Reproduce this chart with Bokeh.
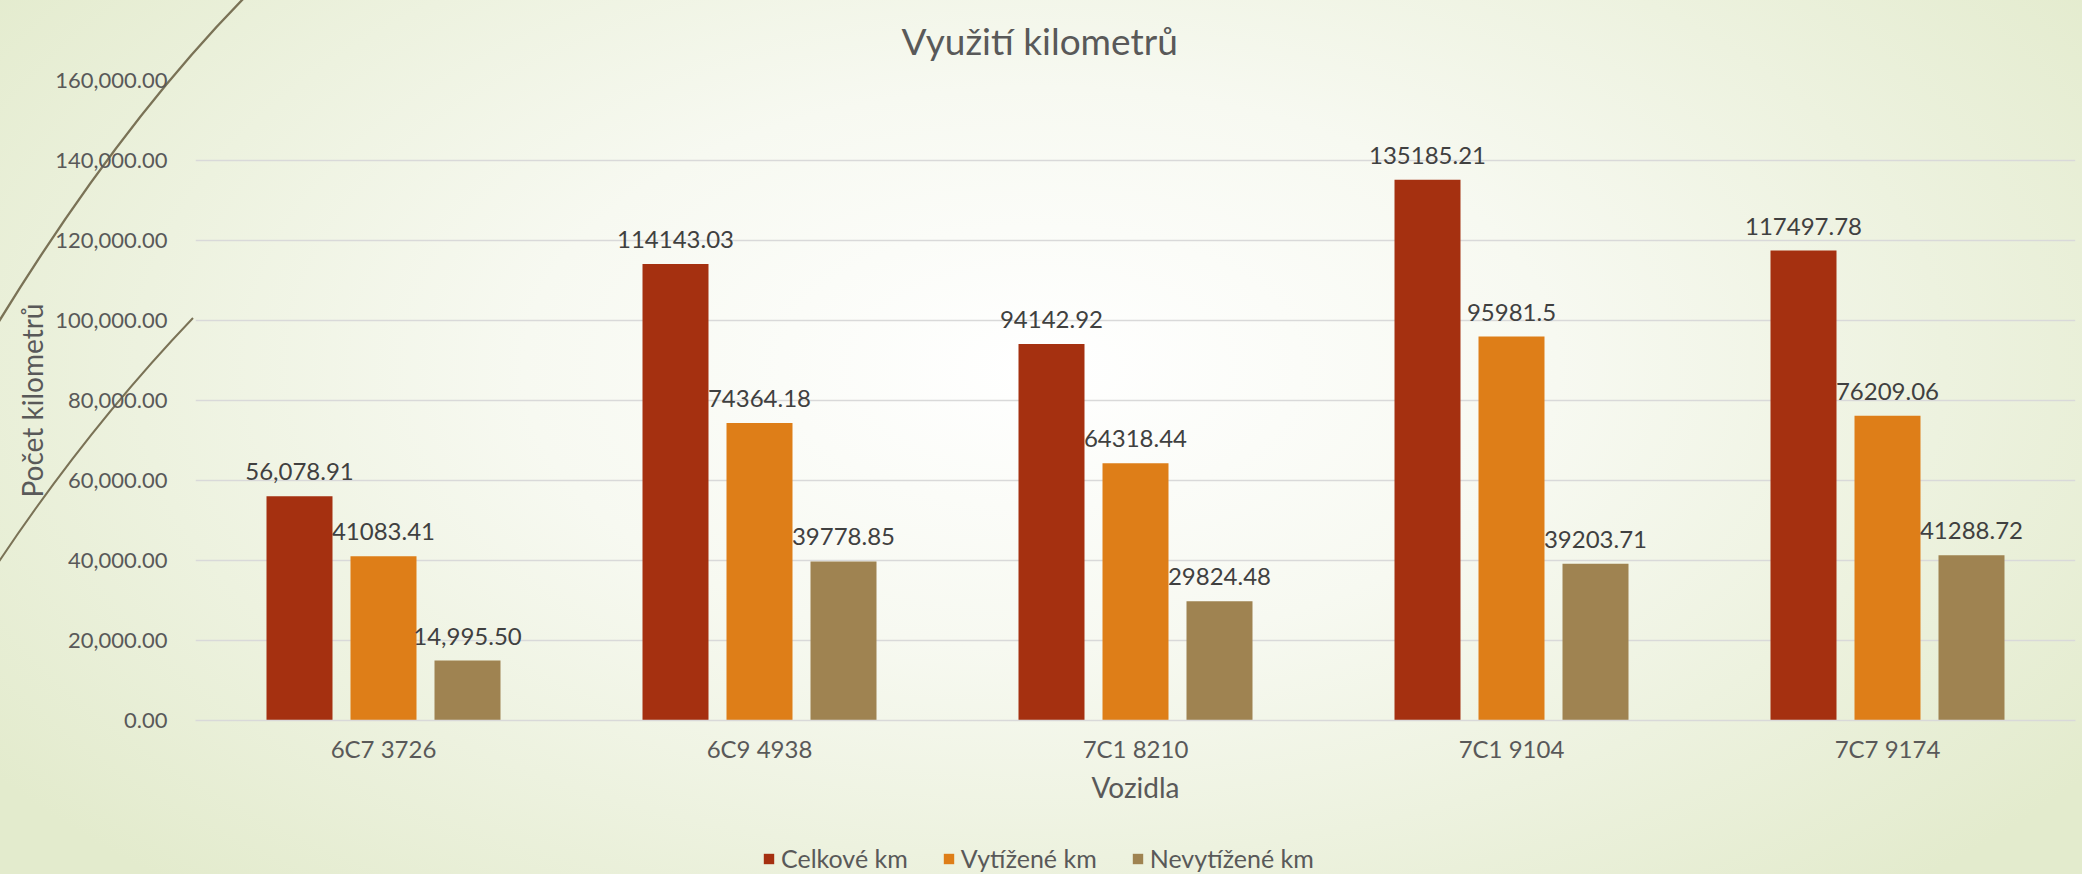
import base64
from bokeh.plotting import figure
from bokeh.layouts import column
from bokeh.models import (FactorRange, Range1d, NumeralTickFormatter, Legend, LegendItem,
                          LabelSet, ColumnDataSource, FixedTicker, Title)
from bokeh.core.properties import value
from bokeh.transform import dodge
from bokeh.embed import file_html
from bokeh.resources import INLINE

# ---------------- data ----------------
categories = ["6C7 3726", "6C9 4938", "7C1 8210", "7C1 9104", "7C7 9174"]
celkove = [56078.91, 114143.03, 94142.92, 135185.21, 117497.78]
vytizene = [41083.41, 74364.18, 64318.44, 95981.5, 76209.06]
nevytizene = [14995.50, 39778.85, 29824.48, 39203.71, 41288.72]
celkove_labels = ["56,078.91", "114143.03", "94142.92", "135185.21", "117497.78"]
vytizene_labels = ["41083.41", "74364.18", "64318.44", "95981.5", "76209.06"]
nevytizene_labels = ["14,995.50", "39778.85", "29824.48", "39203.71", "41288.72"]
series_names = ["Celkové km", "Vytížené km", "Nevytížené km"]
y_ticks = [0, 20000, 40000, 60000, 80000, 100000, 120000, 140000, 160000]

title_text = "Využití kilometrů"
x_title = "Vozidla"
y_title = "Počet kilometrů"

colors = ["#A53010", "#DE7E18", "#9F8351"]
FONT = "Lato"
TXT = "#595959"

source = ColumnDataSource(dict(
    cat=categories,
    celkove=celkove, vytizene=vytizene, nevytizene=nevytizene,
    celkove_l=celkove_labels, vytizene_l=vytizene_labels, nevytizene_l=nevytizene_labels,
))

W = 2082
H_MAIN = 820
H_LEG = 54
BL, BR = 195, 7

# ---------------- main chart ----------------
p = figure(width=W, height=H_MAIN, x_range=FactorRange(*categories), y_range=Range1d(0, 160000),
           output_backend="svg", toolbar_location=None, title_location=None,
           min_border_left=BL, min_border_right=BR, min_border_top=80, min_border_bottom=100)
p.background_fill_alpha = 0
p.border_fill_alpha = 0
p.outline_line_color = None

xax = p.below[0]
yax = p.left[0]

p.add_layout(Title(text=title_text, text_font=FONT, text_font_size="37px", text_font_style="normal",
                   text_color=TXT, align="left", offset=706, vertical_align="top", standoff=32),
             "above")

step = 0.2234
bw = 0.1755
fields = ["celkove", "vytizene", "nevytizene"]
for i, (f, c) in enumerate(zip(fields, colors)):
    p.vbar(x=dodge("cat", (i - 1) * step, range=p.x_range), top=f, width=bw, source=source,
           fill_color=c, line_color=None)
    labels = LabelSet(x=dodge("cat", (i - 1) * step, range=p.x_range), y=f, text=f + "_l",
                      source=source, text_align="center", text_baseline="alphabetic", y_offset=16,
                      text_font=value(FONT), text_font_size=value("24px"), text_color=value("#404040"))
    p.add_layout(labels)

yax.ticker = FixedTicker(ticks=y_ticks)
yax.formatter = NumeralTickFormatter(format="0,0.00")
yax.axis_line_color = None
yax.major_tick_line_color = None
yax.minor_tick_line_color = None
yax.major_label_standoff = 22
yax.major_label_text_font = FONT
yax.major_label_text_font_size = "22px"
yax.major_label_text_color = TXT
yax.axis_label = y_title
yax.axis_label_text_font = FONT
yax.axis_label_text_font_size = "28px"
yax.axis_label_text_font_style = "normal"
yax.axis_label_text_color = TXT
yax.axis_label_standoff = 3

xax.axis_line_color = "#d9d9d9"
xax.axis_line_width = 1.5
xax.major_tick_line_color = None
xax.minor_tick_line_color = None
xax.major_label_standoff = 7
xax.major_label_text_font = FONT
xax.major_label_text_font_size = "24px"
xax.major_label_text_color = TXT
xax.axis_label = x_title
xax.axis_label_text_font = FONT
xax.axis_label_text_font_size = "28px"
xax.axis_label_text_font_style = "normal"
xax.axis_label_text_color = TXT
xax.axis_label_standoff = 4

p.xgrid.grid_line_color = None
p.ygrid.grid_line_color = "#d9d9d9"
p.ygrid.grid_line_width = 1.5

# ---------------- legend strip ----------------
pl = figure(width=W, height=H_LEG, x_range=Range1d(0, 1), y_range=Range1d(0, 1),
            output_backend="svg", toolbar_location=None, title_location=None,
            x_axis_type=None, y_axis_type=None,
            min_border_left=BL, min_border_right=BR, min_border_top=0, min_border_bottom=0)
pl.background_fill_alpha = 0
pl.border_fill_alpha = 0
pl.outline_line_color = None
pl.grid.visible = False
# legend-only swatches: zero-height bars placed outside the visible range
leg_renderers = [pl.vbar(x=[-1], top=[0], width=0.1, fill_color=c, line_color=None) for c in colors]
legend = Legend(items=[LegendItem(label=n, renderers=[r]) for n, r in zip(series_names, leg_renderers)],
                orientation="horizontal", location=(567, 1), padding=0, margin=0,
                spacing=34, glyph_width=13, glyph_height=13, label_standoff=6,
                label_text_font=FONT, label_text_font_size="25px", label_text_color=TXT,
                border_line_color=None, background_fill_alpha=0)
pl.add_layout(legend, "center")

layout = column(p, pl, spacing=0)

# background gradient + decorative theme curves (page styling)
svg = ('<svg xmlns="http://www.w3.org/2000/svg" width="2082" height="874">'
       '<path d="M246,-4 Q120,124 -2,323" fill="none" stroke="#7a7256" stroke-width="2.3"/>'
       '<path d="M193,318 Q88,428 -2,563" fill="none" stroke="#7a7256" stroke-width="2"/>'
       '</svg>')
b64 = base64.b64encode(svg.encode()).decode()
layout.styles = {
    "background-image": f'url("data:image/svg+xml;base64,{b64}"), '
                        'radial-gradient(ellipse 62% 80% at 50% 42%, #ffffff 0%, #f7f9f1 40%, #e3ebcd 100%)',
}

open("out.html", "w").write(file_html(layout, INLINE))
